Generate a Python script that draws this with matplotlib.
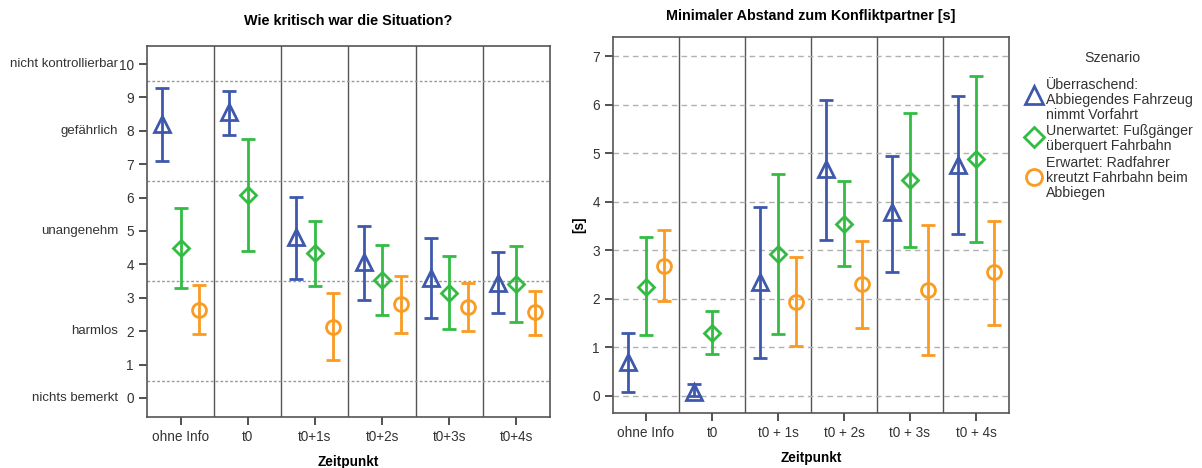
import numpy as np
import matplotlib
matplotlib.use("Agg")
import matplotlib.pyplot as plt
from matplotlib.lines import Line2D

plt.rcParams['font.family'] = ['Liberation Sans', 'DejaVu Sans']

# categories / tick labels
cats_left = ['ohne Info', 't0', 't0+1s', 't0+2s', 't0+3s', 't0+4s']
cats_right = ['ohne Info', 't0', 't0 + 1s', 't0 + 2s', 't0 + 3s', 't0 + 4s']
scenarios = ['Überraschend:\nAbbiegendes Fahrzeug\nnimmt Vorfahrt',
             'Unerwartet: Fußgänger\nüberquert Fahrbahn',
             'Erwartet: Radfahrer\nkreutzt Fahrbahn beim\nAbbiegen']
nan = np.nan

# left chart: Wie kritisch war die Situation? (mean, lower, upper)
krit_blue = [8.20, 8.55, 4.83, 4.06, 3.58, 3.45]
krit_blue_lo = [7.10, 7.88, 3.56, 2.93, 2.39, 2.54]
krit_blue_hi = [9.29, 9.19, 6.03, 5.15, 4.78, 4.36]
krit_green = [4.48, 6.07, 4.33, 3.53, 3.15, 3.41]
krit_green_lo = [3.30, 4.39, 3.36, 2.49, 2.06, 2.28]
krit_green_hi = [5.68, 7.75, 5.31, 4.59, 4.25, 4.55]
krit_orange = [2.63, nan, 2.13, 2.80, 2.73, 2.57]
krit_orange_lo = [1.91, nan, 1.15, 1.95, 2.02, 1.90]
krit_orange_hi = [3.38, nan, 3.13, 3.66, 3.45, 3.20]

# right chart: Minimaler Abstand [s]
abst_blue = [0.70, 0.08, 2.35, 4.67, 3.78, 4.76]
abst_blue_lo = [0.08, 0.00, 0.78, 3.21, 2.55, 3.33]
abst_blue_hi = [1.29, 0.24, 3.90, 6.11, 4.95, 6.19]
abst_green = [2.25, 1.30, 2.93, 3.55, 4.45, 4.88]
abst_green_lo = [1.25, 0.85, 1.27, 2.68, 3.06, 3.16]
abst_green_hi = [3.27, 1.74, 4.58, 4.43, 5.83, 6.60]
abst_orange = [2.68, nan, 1.93, 2.30, 2.18, 2.54]
abst_orange_lo = [1.96, nan, 1.02, 1.40, 0.84, 1.46]
abst_orange_hi = [3.42, nan, 2.86, 3.20, 3.52, 3.60]

krit_levels = {0: 'nichts bemerkt', 2: 'harmlos', 5: 'unangenehm',
               8: 'gefährlich', 10: 'nicht kontrollierbar'}

colors = ['#3E58AC', '#33BB44', '#FA9B22']
markers = ['^', 'D', 'o']
msizes = [11, 8.5, 10]
offsets = [-0.275, 0, 0.275]
textcol = '#333333'
fs = 9.5
W, H = 1202, 468

fig = plt.figure(figsize=(W / 100, H / 100), dpi=100)
ax1 = fig.add_axes([147 / W, 1 - 417 / H, 403 / W, 371 / H])
ax2 = fig.add_axes([613 / W, 1 - 413 / H, 396 / W, 376 / H])


def draw_series(ax, means, los, his):
    x = np.arange(6)
    for i in range(3):
        m = np.array(means[i], dtype=float)
        lo = np.array(los[i], dtype=float)
        hi = np.array(his[i], dtype=float)
        ax.errorbar(x + offsets[i], m, yerr=[m - lo, hi - m], fmt=markers[i],
                    mfc='none', mec=colors[i], ecolor=colors[i], mew=2,
                    ms=msizes[i], elinewidth=2, capsize=5, capthick=2,
                    zorder=3)


def style_axes(ax, labels):
    ax.set_xlim(-0.5, 5.5)
    ax.set_xticks(np.arange(6))
    ax.set_xticklabels(labels)
    for k in range(5):
        ax.axvline(k + 0.5, color='#555555', lw=1.0, zorder=1)
    for s in ax.spines.values():
        s.set_color('#555555')
        s.set_linewidth(1.2)
    ax.tick_params(axis='both', colors='#333333', labelsize=fs + 0.3,
                   labelcolor=textcol, width=1.2, length=6)
    ax.set_xlabel('Zeitpunkt', fontweight='bold', fontsize=fs + 0.3,
                  labelpad=8)


# left chart
draw_series(ax1, [krit_blue, krit_green, krit_orange],
            [krit_blue_lo, krit_green_lo, krit_orange_lo],
            [krit_blue_hi, krit_green_hi, krit_orange_hi])
style_axes(ax1, cats_left)
ax1.set_ylim(-0.57, 10.54)
ax1.set_yticks(range(11))
for yv in [0.5, 3.5, 6.5, 9.5]:
    ax1.axhline(yv, color='#9a9a9a', lw=1.0, ls=(0, (2, 1.5)), zorder=1)
for yv, name in krit_levels.items():
    ax1.text(-0.072, yv, name, transform=ax1.get_yaxis_transform(),
             ha='right', va='center', fontsize=fs, color=textcol)
ax1.set_title('Wie kritisch war die Situation?', fontweight='bold',
              fontsize=10.4, pad=15)

# right chart
draw_series(ax2, [abst_blue, abst_green, abst_orange],
            [abst_blue_lo, abst_green_lo, abst_orange_lo],
            [abst_blue_hi, abst_green_hi, abst_orange_hi])
style_axes(ax2, cats_right)
ax2.set_ylim(-0.36, 7.4)
ax2.set_yticks(range(8))
for yv in range(8):
    ax2.axhline(yv, color='#b0b0b0', lw=1.0, ls=(0, (4, 3)), zorder=1)
ax2.set_ylabel('[s]', fontweight='bold', fontsize=fs + 0.3, labelpad=4)
ax2.set_title('Minimaler Abstand zum Konfliktpartner [s]', fontweight='bold',
              fontsize=10.4, pad=12)

# legend, laid out by hand
fig.text(1112 / W, 1 - 58 / H, 'Szenario', ha='center', va='center',
         fontsize=10.2, color=textcol)
first_line_y = [85, 131, 163]
marker_y = [95, 137, 177]
pitch = 14.8
for i, label in enumerate(scenarios):
    fig.add_artist(Line2D([1034 / W], [1 - marker_y[i] / H], ls='none',
                          marker=markers[i], mfc='none', mec=colors[i],
                          mew=2, ms=msizes[i] + 1.5,
                          transform=fig.transFigure))
    for j, line in enumerate(label.split('\n')):
        fig.text(1046 / W, 1 - (first_line_y[i] + j * pitch) / H, line,
                 ha='left', va='center', fontsize=10.2, color=textcol)

fig.savefig('out.png', dpi=100)
